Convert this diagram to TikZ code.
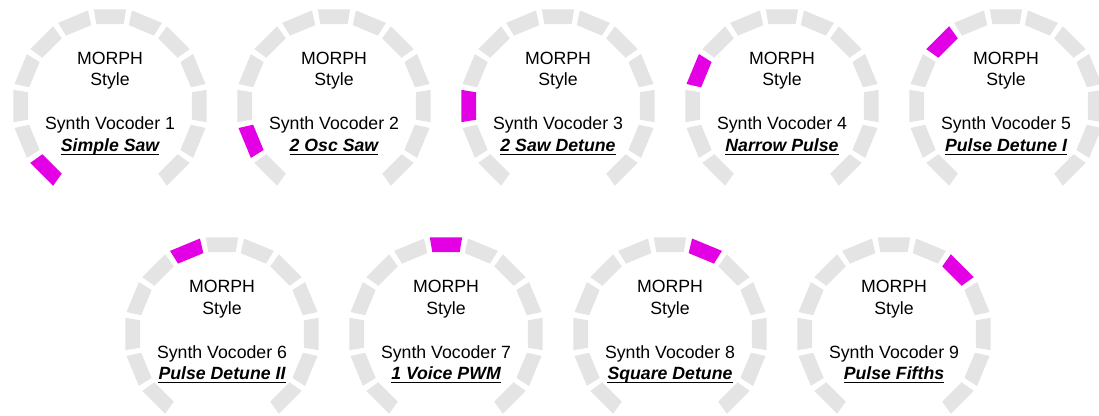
\documentclass[tikz,border=0pt]{standalone}
\usepackage{fontspec}
\setmainfont{Liberation Sans}
\definecolor{seggray}{RGB}{228,228,228}
\definecolor{segmag}{RGB}{228,0,228}
\tikzset{
  lbl/.style={inner sep=0pt, anchor=base, font=\fontsize{17.7}{20}\selectfont},
  namelbl/.style={lbl, font=\fontsize{17.7}{20}\selectfont\bfseries\itshape},
  uline/.style={line width=1.4pt, black},
}
\begin{document}
\begin{tikzpicture}[x=1pt,y=1pt]
\useasboundingbox (0,0) rectangle (1099,415);
\clip (0,0) rectangle (1099,415);
\foreach \i/\cx/\cy/\nm in {1/110/309/Simple Saw, 2/334/309/2 Osc Saw, 3/558/309/2 Saw Detune, 4/782/309/Narrow Pulse, 5/1006/309/Pulse Detune I, 6/222/81/Pulse Detune II, 7/446/81/1 Voice PWM, 8/670/81/Square Detune, 9/894/81/Pulse Fifths} {
  \begin{scope}[shift={(\cx,\cy)}]
    \foreach \k in {0,...,12} {
      \pgfmathsetmacro\a{225-22.5*\k}
      \ifnum\k=\numexpr\i-1\relax \def\segcol{segmag}\else\def\segcol{seggray}\fi
      \fill[\segcol] (\a+9.5:98) -- (\a-9.5:98) -- (\a-9.5:83) -- (\a+9.5:83) -- cycle;
    }
    \node[lbl] (m\i) at (0,41) {MORPH};
    \node[lbl] (s\i) at (0,20) {Style};
    \node[lbl] (v\i) at (0,-24) {Synth Vocoder \i};
    \node[namelbl] (n\i) at (0,-45.5) {\nm};
    \draw[uline] ([yshift=-3.2pt]n\i.base west) -- ([yshift=-3.2pt]n\i.base east);
  \end{scope}
}
\end{tikzpicture}
\end{document}
